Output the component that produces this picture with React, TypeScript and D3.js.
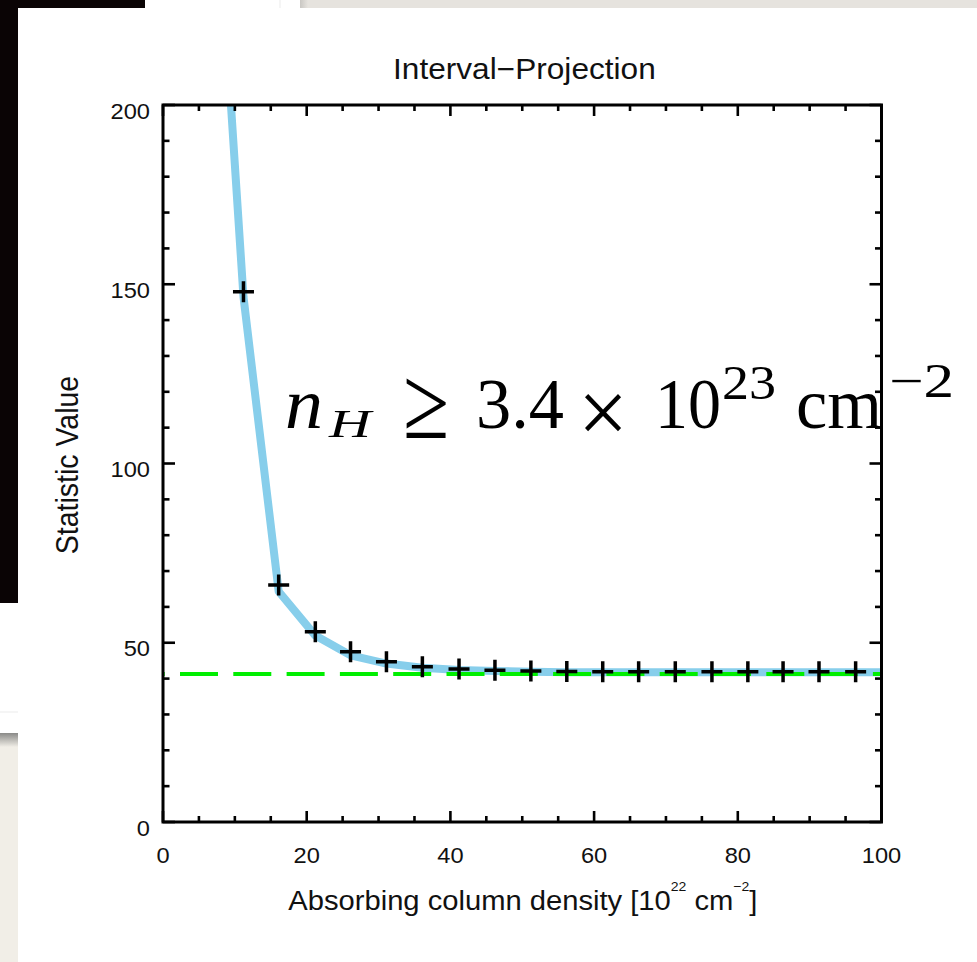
import React from 'react';
import * as d3 from 'd3';

// ---- data ----
const markerX = [11.2, 16.1, 21.2, 26.1, 31.1, 36.1, 41.2, 46.2, 51.2, 56.2, 61.2, 66.2, 71.3, 76.4, 81.4, 86.3, 91.3, 96.4];
const markerY = [147.9, 66.1, 53.1, 47.5, 44.7, 43.3, 42.7, 42.3, 42.1, 42.0, 41.9, 41.9, 41.9, 41.9, 41.9, 41.9, 41.9, 41.9];
const lineX = [6.2, 11.2, 16.1, 21.2, 26.1, 31.1, 36.1, 41.2, 46.2, 51.2, 56.2, 61.2, 66.2, 71.3, 76.4, 81.4, 86.3, 91.3, 96.4, 101.4];
const lineY = [300, 146.5, 64.3, 52.0, 46.5, 44.2, 43.0, 42.4, 42.1, 41.9, 41.8, 41.8, 41.8, 41.8, 41.8, 41.8, 41.8, 41.8, 41.8, 41.8];
const minStatistic = 41.3;
const xDomain = [0, 100];
const yDomain = [0, 200];
const xTickLabels = ['0', '20', '40', '60', '80', '100'];
const yTickLabels = ['0', '50', '100', '150', '200'];
const titleText = 'Interval\u2212Projection';
const yTitle = 'Statistic Value';

const W = 977;
const H = 962;
const PL = 163, PR = 881.5, PT = 105, PB = 822;
const SANS = '"Liberation Sans", Arial, Helvetica, sans-serif';
const SERIF = '"Liberation Serif", "Times New Roman", serif';

function SText(props: any) {
  const { x, y, sx = 1.1, size, anchor = 'start', rotate, children, family = SANS } = props;
  return (
    <text
      transform={`translate(${x},${y}) scale(${sx},1)${rotate ? ` rotate(${rotate})` : ''}`}
      fontSize={size}
      fontFamily={family}
      textAnchor={anchor}
      fill="#111"
    >
      {children}
    </text>
  );
}

export default function App() {
  const x = d3.scaleLinear().domain(xDomain).range([PL, PR]);
  const y = d3.scaleLinear().domain(yDomain).range([PB, PT]);

  const xMajor = x.ticks(5);
  const xMinor = x.ticks(20).filter((t) => !xMajor.includes(t));
  const yMajor = y.ticks(4);
  const yMinor = y.ticks(20).filter((t) => !yMajor.includes(t));

  const pts: [number, number][] = lineX.map((v, i) => [v, lineY[i]]);
  const linePath = d3.line<[number, number]>().x((d) => x(d[0])).y((d) => y(d[1]))(pts) || '';

  const tickW = 2.6;
  const xMajLen = 11, xMinLen = 6, yMajLen = 12, yMinLen = 6.5;

  return (
    <svg
      width={W}
      height={H}
      viewBox={`0 0 ${W} ${H}`}
      style={{ position: 'absolute', left: 0, top: 0, display: 'block' }}
    >
      <defs>
        <clipPath id="plotclip">
          <rect x={PL} y={PT} width={PR - PL} height={PB - PT} />
        </clipPath>
        <linearGradient id="topgrad" x1="0" x2="1" y1="0" y2="0">
          <stop offset="0" stopColor="#c9c7c3" />
          <stop offset="1" stopColor="#e6e3de" />
        </linearGradient>
        <linearGradient id="leftgrad" x1="0" x2="0" y1="0" y2="1">
          <stop offset="0" stopColor="#8a8a88" />
          <stop offset="1" stopColor="#f1eee7" />
        </linearGradient>
      </defs>

      {/* background / photo surroundings */}
      <rect x={0} y={0} width={W} height={H} fill="#ffffff" />
      <rect x={0} y={0} width={18} height={603} fill="#0a0405" />
      <rect x={0} y={0} width={145} height={8} fill="#0a0405" />
      <rect x={300} y={0} width={8} height={8} fill="url(#topgrad)" />
      <rect x={308} y={0} width={W - 308} height={8} fill="#e6e3de" />
      <rect x={279.5} y={0} width={1} height={8} fill="#ececec" />
      <rect x={0} y={711.5} width={18} height={1} fill="#ececec" />
      <rect x={0} y={733} width={18} height={14} fill="url(#leftgrad)" />
      <rect x={0} y={747} width={18} height={H - 747} fill="#f1eee7" />

      {/* title */}
      <SText x={524.4} y={79.3} size={29} sx={1.09} anchor="middle">{titleText}</SText>

      {/* data */}
      <g clipPath="url(#plotclip)">
        <path d={linePath} fill="none" stroke="#87CEEB" strokeWidth={8} strokeLinejoin="round" />
        <line
          x1={PL}
          x2={PR}
          y1={y(minStatistic)}
          y2={y(minStatistic)}
          stroke="#00ee00"
          strokeWidth={4}
          strokeDasharray="38 15.3"
          strokeDashoffset={36.3}
        />
      </g>
      <g>
        {markerX.map((mx, i) => (
          <path
            key={i}
            transform={`translate(${x(mx)},${y(markerY[i])})`}
            d="M-10.5,0H10.5M0,-10.5V10.5"
            stroke="#000"
            strokeWidth={3.5}
            fill="none"
          />
        ))}
      </g>

      {/* ticks */}
      <g stroke="#000" strokeWidth={tickW}>
        {xMajor.map((t) => (
          <g key={'xM' + t}>
            <line x1={x(t)} x2={x(t)} y1={PB} y2={PB - xMajLen} />
            <line x1={x(t)} x2={x(t)} y1={PT} y2={PT + xMajLen} />
          </g>
        ))}
        {xMinor.map((t) => (
          <g key={'xm' + t}>
            <line x1={x(t)} x2={x(t)} y1={PB} y2={PB - xMinLen} />
            <line x1={x(t)} x2={x(t)} y1={PT} y2={PT + xMinLen} />
          </g>
        ))}
        {yMajor.map((t) => (
          <g key={'yM' + t}>
            <line x1={PL} x2={PL + yMajLen} y1={y(t)} y2={y(t)} />
            <line x1={PR} x2={PR - yMajLen} y1={y(t)} y2={y(t)} />
          </g>
        ))}
        {yMinor.map((t) => (
          <g key={'ym' + t}>
            <line x1={PL} x2={PL + yMinLen} y1={y(t)} y2={y(t)} />
            <line x1={PR} x2={PR - yMinLen} y1={y(t)} y2={y(t)} />
          </g>
        ))}
      </g>

      {/* frame */}
      <rect x={PL} y={PT} width={PR - PL} height={PB - PT} fill="none" stroke="#000" strokeWidth={3} />

      {/* tick labels */}
      {xMajor.map((t, i) => (
        <SText key={'xl' + t} x={x(t)} y={PB + 40.7} size={21.5} anchor="middle">{xTickLabels[i]}</SText>
      ))}
      {yMajor.map((t, i) => (
        <SText key={'yl' + t} x={150} y={y(t) + 13.5} size={21.5} anchor="end">{yTickLabels[i]}</SText>
      ))}

      {/* axis titles */}
      <text transform="translate(288.3,909.5) scale(1.08,1)" fontSize={27} fontFamily={SANS} fill="#111">
        Absorbing column density [10
        <tspan fontSize={13} dy={-19}>22</tspan>
        <tspan fontSize={27} dy={19}> cm</tspan>
        <tspan fontSize={13} dy={-19}>{'\u22122'}</tspan>
        <tspan fontSize={27} dy={19}>]</tspan>
      </text>
      <SText x={78} y={465} size={28.5} sx={1.1} anchor="middle" rotate={-90}>{yTitle}</SText>

      {/* annotation */}
      <g fontFamily={SERIF} fill="#000">
        <text x={285} y={428} fontSize={72} fontStyle="italic" textLength={38} lengthAdjust="spacingAndGlyphs">n</text>
        <text x={329} y={437} fontSize={40} fontStyle="italic" textLength={42} lengthAdjust="spacingAndGlyphs">H</text>
        <text transform="translate(403,438) scale(1,1.3)" fontSize={80} textLength={46} lengthAdjust="spacingAndGlyphs">{'\u2265'}</text>
        <text transform="translate(578,443) scale(1,1.15)" fontSize={80} textLength={50} lengthAdjust="spacingAndGlyphs">{'\u00d7'}</text>
        <text x={476} y={428} fontSize={72} textLength={88} lengthAdjust="spacingAndGlyphs">3.4</text>
        <text x={655} y={428} fontSize={72} textLength={66} lengthAdjust="spacingAndGlyphs">10</text>
        <text x={722} y={399} fontSize={48} textLength={54} lengthAdjust="spacingAndGlyphs">23</text>
        <text x={796} y={428} fontSize={72} textLength={86} lengthAdjust="spacingAndGlyphs">cm</text>
        <text x={889} y={397} fontSize={48} textLength={65} lengthAdjust="spacingAndGlyphs">{'\u22122'}</text>
      </g>
    </svg>
  );
}
